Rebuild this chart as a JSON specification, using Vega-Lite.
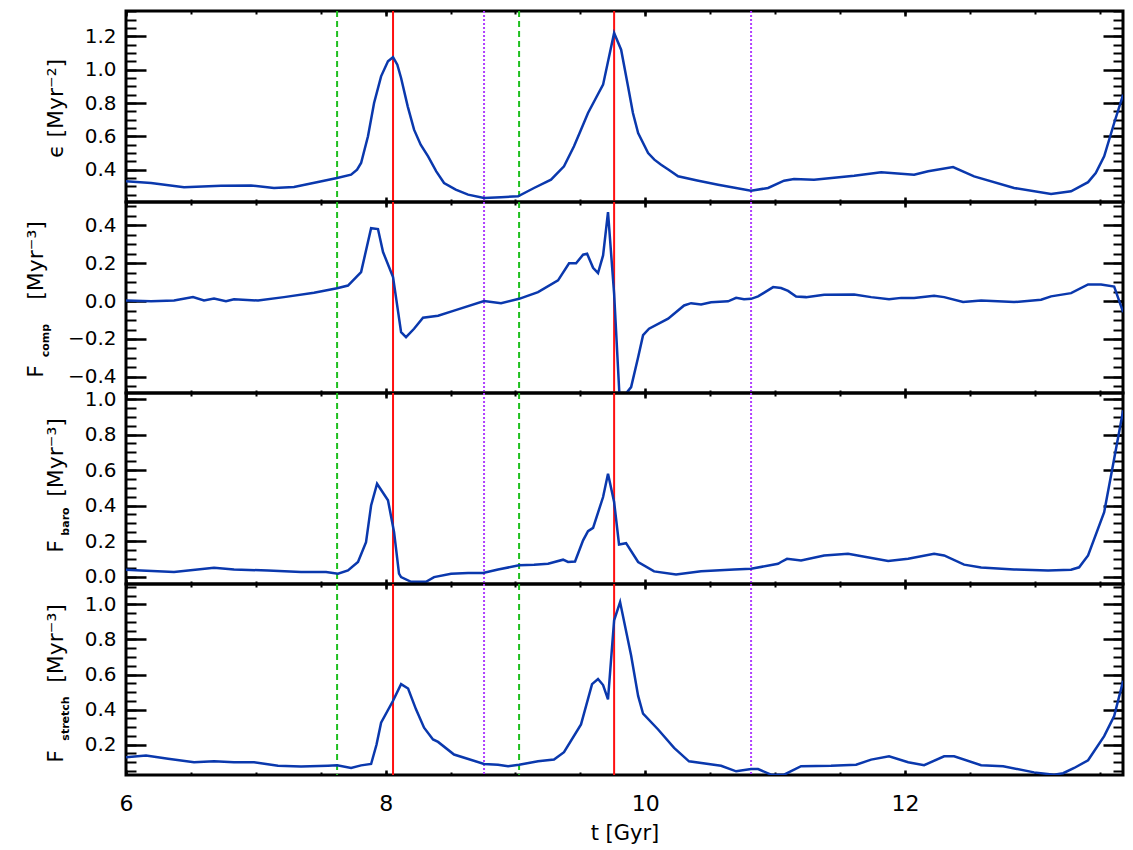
{
  "$schema": "https://vega.github.io/schema/vega-lite/v6.json",
  "padding": {"left": 22, "top": 8, "right": 5, "bottom": 5},
  "background": "white",
  "datasets": {
    "events": [
      {"t": 7.626, "kind": "a"}, {"t": 9.028, "kind": "a"},
      {"t": 8.057, "kind": "b"}, {"t": 9.760, "kind": "b"},
      {"t": 8.758, "kind": "c"}, {"t": 10.815, "kind": "c"}
    ],
    "eps": [
      {"t": 6.000, "v": 0.330}, {"t": 6.193, "v": 0.320}, {"t": 6.447, "v": 0.295}, {"t": 6.732, "v": 0.304},
      {"t": 6.963, "v": 0.305}, {"t": 7.140, "v": 0.290}, {"t": 7.294, "v": 0.296}, {"t": 7.479, "v": 0.326},
      {"t": 7.626, "v": 0.350}, {"t": 7.734, "v": 0.370}, {"t": 7.780, "v": 0.400}, {"t": 7.811, "v": 0.440},
      {"t": 7.864, "v": 0.600}, {"t": 7.911, "v": 0.800}, {"t": 7.965, "v": 0.960}, {"t": 8.018, "v": 1.050},
      {"t": 8.057, "v": 1.075}, {"t": 8.090, "v": 1.030}, {"t": 8.119, "v": 0.950}, {"t": 8.170, "v": 0.780},
      {"t": 8.219, "v": 0.640}, {"t": 8.270, "v": 0.550}, {"t": 8.327, "v": 0.480}, {"t": 8.390, "v": 0.390},
      {"t": 8.450, "v": 0.320}, {"t": 8.540, "v": 0.280}, {"t": 8.635, "v": 0.250}, {"t": 8.758, "v": 0.230},
      {"t": 8.889, "v": 0.235}, {"t": 9.020, "v": 0.240}, {"t": 9.143, "v": 0.290}, {"t": 9.274, "v": 0.340},
      {"t": 9.374, "v": 0.420}, {"t": 9.451, "v": 0.540}, {"t": 9.500, "v": 0.630}, {"t": 9.559, "v": 0.740},
      {"t": 9.620, "v": 0.830}, {"t": 9.675, "v": 0.910}, {"t": 9.760, "v": 1.220}, {"t": 9.814, "v": 1.120},
      {"t": 9.867, "v": 0.900}, {"t": 9.905, "v": 0.740}, {"t": 9.945, "v": 0.620}, {"t": 10.022, "v": 0.500},
      {"t": 10.070, "v": 0.460}, {"t": 10.122, "v": 0.430}, {"t": 10.180, "v": 0.400}, {"t": 10.253, "v": 0.360},
      {"t": 10.400, "v": 0.335}, {"t": 10.561, "v": 0.310}, {"t": 10.815, "v": 0.274}, {"t": 10.946, "v": 0.290},
      {"t": 11.069, "v": 0.334}, {"t": 11.146, "v": 0.344}, {"t": 11.300, "v": 0.340}, {"t": 11.609, "v": 0.364},
      {"t": 11.817, "v": 0.384}, {"t": 12.071, "v": 0.370}, {"t": 12.179, "v": 0.390}, {"t": 12.371, "v": 0.416},
      {"t": 12.533, "v": 0.360}, {"t": 12.841, "v": 0.290}, {"t": 13.126, "v": 0.254}, {"t": 13.280, "v": 0.270},
      {"t": 13.411, "v": 0.325}, {"t": 13.470, "v": 0.380}, {"t": 13.535, "v": 0.480}, {"t": 13.612, "v": 0.680},
      {"t": 13.681, "v": 0.850}
    ],
    "fcomp": [
      {"t": 6.000, "v": 0.003}, {"t": 6.193, "v": -0.001}, {"t": 6.370, "v": 0.003}, {"t": 6.516, "v": 0.021},
      {"t": 6.601, "v": 0.003}, {"t": 6.678, "v": 0.013}, {"t": 6.770, "v": 0.000}, {"t": 6.832, "v": 0.010},
      {"t": 7.017, "v": 0.003}, {"t": 7.217, "v": 0.021}, {"t": 7.448, "v": 0.044}, {"t": 7.626, "v": 0.068},
      {"t": 7.710, "v": 0.082}, {"t": 7.811, "v": 0.153}, {"t": 7.888, "v": 0.385}, {"t": 7.941, "v": 0.380},
      {"t": 7.980, "v": 0.259}, {"t": 8.057, "v": 0.127}, {"t": 8.119, "v": -0.164}, {"t": 8.157, "v": -0.190},
      {"t": 8.219, "v": -0.146}, {"t": 8.288, "v": -0.088}, {"t": 8.404, "v": -0.077}, {"t": 8.527, "v": -0.050},
      {"t": 8.758, "v": 0.000}, {"t": 8.889, "v": -0.011}, {"t": 9.028, "v": 0.012}, {"t": 9.174, "v": 0.047},
      {"t": 9.328, "v": 0.109}, {"t": 9.413, "v": 0.200}, {"t": 9.467, "v": 0.200}, {"t": 9.521, "v": 0.245},
      {"t": 9.552, "v": 0.250}, {"t": 9.598, "v": 0.176}, {"t": 9.636, "v": 0.148}, {"t": 9.675, "v": 0.241},
      {"t": 9.713, "v": 0.470}, {"t": 9.760, "v": 0.039}, {"t": 9.806, "v": -0.560}, {"t": 9.837, "v": -0.500},
      {"t": 9.891, "v": -0.454}, {"t": 9.945, "v": -0.296}, {"t": 9.983, "v": -0.180}, {"t": 10.029, "v": -0.146},
      {"t": 10.176, "v": -0.093}, {"t": 10.299, "v": -0.023}, {"t": 10.353, "v": -0.011}, {"t": 10.430, "v": -0.018},
      {"t": 10.507, "v": -0.006}, {"t": 10.638, "v": -0.001}, {"t": 10.700, "v": 0.017}, {"t": 10.761, "v": 0.010},
      {"t": 10.815, "v": 0.012}, {"t": 10.869, "v": 0.025}, {"t": 10.985, "v": 0.074}, {"t": 11.046, "v": 0.069},
      {"t": 11.100, "v": 0.054}, {"t": 11.162, "v": 0.024}, {"t": 11.239, "v": 0.021}, {"t": 11.378, "v": 0.033},
      {"t": 11.609, "v": 0.035}, {"t": 11.740, "v": 0.021}, {"t": 11.878, "v": 0.010}, {"t": 11.971, "v": 0.017},
      {"t": 12.071, "v": 0.017}, {"t": 12.225, "v": 0.028}, {"t": 12.302, "v": 0.021}, {"t": 12.448, "v": -0.005},
      {"t": 12.587, "v": 0.003}, {"t": 12.841, "v": -0.005}, {"t": 13.049, "v": 0.007}, {"t": 13.126, "v": 0.025},
      {"t": 13.280, "v": 0.042}, {"t": 13.411, "v": 0.088}, {"t": 13.511, "v": 0.088}, {"t": 13.612, "v": 0.077},
      {"t": 13.681, "v": -0.058}
    ],
    "fbaro": [
      {"t": 6.000, "v": 0.038}, {"t": 6.116, "v": 0.034}, {"t": 6.370, "v": 0.025}, {"t": 6.678, "v": 0.050},
      {"t": 6.832, "v": 0.040}, {"t": 7.094, "v": 0.034}, {"t": 7.348, "v": 0.025}, {"t": 7.541, "v": 0.025},
      {"t": 7.633, "v": 0.016}, {"t": 7.710, "v": 0.034}, {"t": 7.787, "v": 0.082}, {"t": 7.849, "v": 0.194},
      {"t": 7.888, "v": 0.400}, {"t": 7.934, "v": 0.523}, {"t": 8.018, "v": 0.430}, {"t": 8.065, "v": 0.250},
      {"t": 8.103, "v": 0.016}, {"t": 8.119, "v": -0.003}, {"t": 8.196, "v": -0.030}, {"t": 8.311, "v": -0.030},
      {"t": 8.373, "v": -0.003}, {"t": 8.504, "v": 0.016}, {"t": 8.635, "v": 0.020}, {"t": 8.750, "v": 0.020},
      {"t": 8.866, "v": 0.040}, {"t": 9.028, "v": 0.063}, {"t": 9.143, "v": 0.066}, {"t": 9.251, "v": 0.072},
      {"t": 9.367, "v": 0.095}, {"t": 9.405, "v": 0.082}, {"t": 9.459, "v": 0.085}, {"t": 9.521, "v": 0.204},
      {"t": 9.559, "v": 0.256}, {"t": 9.598, "v": 0.274}, {"t": 9.675, "v": 0.448}, {"t": 9.713, "v": 0.579},
      {"t": 9.760, "v": 0.420}, {"t": 9.798, "v": 0.181}, {"t": 9.852, "v": 0.188}, {"t": 9.945, "v": 0.082},
      {"t": 10.068, "v": 0.029}, {"t": 10.237, "v": 0.012}, {"t": 10.430, "v": 0.030}, {"t": 10.684, "v": 0.040},
      {"t": 10.815, "v": 0.044}, {"t": 11.023, "v": 0.072}, {"t": 11.046, "v": 0.082}, {"t": 11.092, "v": 0.100},
      {"t": 11.200, "v": 0.091}, {"t": 11.378, "v": 0.119}, {"t": 11.562, "v": 0.128}, {"t": 11.871, "v": 0.087},
      {"t": 12.025, "v": 0.100}, {"t": 12.225, "v": 0.128}, {"t": 12.302, "v": 0.119}, {"t": 12.456, "v": 0.067},
      {"t": 12.587, "v": 0.051}, {"t": 12.841, "v": 0.040}, {"t": 13.103, "v": 0.034}, {"t": 13.280, "v": 0.038},
      {"t": 13.342, "v": 0.052}, {"t": 13.411, "v": 0.119}, {"t": 13.535, "v": 0.363}, {"t": 13.612, "v": 0.664},
      {"t": 13.681, "v": 0.936}
    ],
    "fstretch": [
      {"t": 6.000, "v": 0.128}, {"t": 6.154, "v": 0.137}, {"t": 6.324, "v": 0.119}, {"t": 6.524, "v": 0.099},
      {"t": 6.678, "v": 0.105}, {"t": 6.832, "v": 0.099}, {"t": 6.986, "v": 0.099}, {"t": 7.171, "v": 0.079},
      {"t": 7.348, "v": 0.075}, {"t": 7.556, "v": 0.079}, {"t": 7.626, "v": 0.081}, {"t": 7.734, "v": 0.066},
      {"t": 7.811, "v": 0.081}, {"t": 7.888, "v": 0.089}, {"t": 7.930, "v": 0.200}, {"t": 7.965, "v": 0.325},
      {"t": 8.057, "v": 0.450}, {"t": 8.119, "v": 0.545}, {"t": 8.173, "v": 0.520}, {"t": 8.234, "v": 0.401},
      {"t": 8.296, "v": 0.296}, {"t": 8.365, "v": 0.229}, {"t": 8.404, "v": 0.215}, {"t": 8.527, "v": 0.143},
      {"t": 8.758, "v": 0.089}, {"t": 8.866, "v": 0.085}, {"t": 8.943, "v": 0.076}, {"t": 9.028, "v": 0.085},
      {"t": 9.174, "v": 0.104}, {"t": 9.297, "v": 0.114}, {"t": 9.374, "v": 0.156}, {"t": 9.505, "v": 0.315},
      {"t": 9.590, "v": 0.545}, {"t": 9.636, "v": 0.574}, {"t": 9.675, "v": 0.540}, {"t": 9.713, "v": 0.458},
      {"t": 9.760, "v": 0.910}, {"t": 9.806, "v": 1.014}, {"t": 9.891, "v": 0.708}, {"t": 9.945, "v": 0.478},
      {"t": 9.983, "v": 0.376}, {"t": 10.099, "v": 0.286}, {"t": 10.222, "v": 0.181}, {"t": 10.337, "v": 0.104},
      {"t": 10.584, "v": 0.079}, {"t": 10.700, "v": 0.047}, {"t": 10.815, "v": 0.060}, {"t": 10.869, "v": 0.060},
      {"t": 10.969, "v": 0.028}, {"t": 11.069, "v": 0.028}, {"t": 11.200, "v": 0.076}, {"t": 11.431, "v": 0.079},
      {"t": 11.624, "v": 0.085}, {"t": 11.740, "v": 0.114}, {"t": 11.878, "v": 0.133}, {"t": 12.025, "v": 0.099},
      {"t": 12.148, "v": 0.082}, {"t": 12.302, "v": 0.133}, {"t": 12.379, "v": 0.133}, {"t": 12.587, "v": 0.082},
      {"t": 12.757, "v": 0.076}, {"t": 12.995, "v": 0.041}, {"t": 13.149, "v": 0.028}, {"t": 13.219, "v": 0.036},
      {"t": 13.304, "v": 0.066}, {"t": 13.411, "v": 0.110}, {"t": 13.535, "v": 0.248}, {"t": 13.612, "v": 0.363},
      {"t": 13.681, "v": 0.564}
    ]
  },
  "vconcat": [
    {
      "width": 997, "height": 191,
      "layer": [
        {"data": {"name": "events"}, "mark": {"type": "rule", "strokeWidth": 2},
         "encoding": {"x": {"field": "t", "type": "quantitative", "scale": {"domain": [6, 13.68], "nice": false, "zero": false}, "axis": null},
           "color": {"field": "kind", "type": "nominal", "scale": {"domain": ["a", "b", "c"], "range": ["#1fbf1f", "#ff1010", "#b040ff"]}, "legend": null},
           "strokeDash": {"field": "kind", "type": "nominal", "scale": {"domain": ["a", "b", "c"], "range": [[6, 4], [1, 0], [2, 2]]}, "legend": null}}},
        {"data": {"name": "eps"}, "mark": {"type": "line", "color": "#0a38ad", "strokeWidth": 2.5, "clip": true},
         "encoding": {
           "x": {"field": "t", "type": "quantitative", "scale": {"domain": [6, 13.68], "nice": false, "zero": false},
             "axis": {"orient": "bottom", "values": [6, 8, 10, 12], "tickSize": -5, "tickWidth": 2.5, "labels": false, "title": null}},
           "y": {"field": "v", "type": "quantitative", "scale": {"domain": [0.206, 1.352], "nice": false, "zero": false},
             "axis": {"orient": "left", "values": [0.4, 0.6, 0.8, 1.0, 1.2], "tickSize": -20, "tickWidth": 2.5, "labelPadding": 30, "labelFontSize": 20, "format": ".1f",
               "title": "ϵ [Myr⁻²]", "titleFontSize": 22, "titleAngle": 270, "titleBaseline": "alphabetic", "titleAlign": "center", "titleX": -64, "titleY": 97}}}},
        {"data": {"name": "eps"}, "mark": {"type": "line", "strokeOpacity": 0},
         "encoding": {
           "x": {"field": "t", "type": "quantitative", "scale": {"domain": [6, 13.68], "nice": false, "zero": false},
             "axis": {"orient": "bottom", "values": [6, 6.5, 7, 7.5, 8, 8.5, 9, 9.5, 10, 10.5, 11, 11.5, 12, 12.5, 13, 13.5], "tickSize": -3, "tickWidth": 2, "labels": false, "title": null}},
           "y": {"field": "v", "type": "quantitative", "scale": {"domain": [0.206, 1.352], "nice": false, "zero": false},
             "axis": {"orient": "left", "values": [0.25, 0.3, 0.35, 0.4, 0.45, 0.5, 0.55, 0.6, 0.65, 0.7, 0.75, 0.8, 0.85, 0.9, 0.95, 1.0, 1.05, 1.1, 1.15, 1.2, 1.25, 1.3, 1.35], "tickSize": -10, "tickWidth": 2, "labels": false, "title": null}}}},
        {"data": {"name": "eps"}, "mark": {"type": "line", "strokeOpacity": 0},
         "encoding": {
           "x": {"field": "t", "type": "quantitative", "scale": {"domain": [6, 13.68], "nice": false, "zero": false},
             "axis": {"orient": "top", "values": [6, 8, 10, 12], "tickSize": -5, "tickWidth": 2.5, "labels": false, "title": null}},
           "y": {"field": "v", "type": "quantitative", "scale": {"domain": [0.206, 1.352], "nice": false, "zero": false},
             "axis": {"orient": "right", "values": [0.4, 0.6, 0.8, 1.0, 1.2], "tickSize": -20, "tickWidth": 2.5, "labels": false, "title": null}}}},
        {"data": {"name": "eps"}, "mark": {"type": "line", "strokeOpacity": 0},
         "encoding": {
           "x": {"field": "t", "type": "quantitative", "scale": {"domain": [6, 13.68], "nice": false, "zero": false},
             "axis": {"orient": "top", "values": [6, 6.5, 7, 7.5, 8, 8.5, 9, 9.5, 10, 10.5, 11, 11.5, 12, 12.5, 13, 13.5], "tickSize": -3, "tickWidth": 2, "labels": false, "title": null}},
           "y": {"field": "v", "type": "quantitative", "scale": {"domain": [0.206, 1.352], "nice": false, "zero": false},
             "axis": {"orient": "right", "values": [0.25, 0.3, 0.35, 0.4, 0.45, 0.5, 0.55, 0.6, 0.65, 0.7, 0.75, 0.8, 0.85, 0.9, 0.95, 1.0, 1.05, 1.1, 1.15, 1.2, 1.25, 1.3, 1.35], "tickSize": -10, "tickWidth": 2, "labels": false, "title": null}}}}
      ],
      "resolve": {"axis": {"x": "independent", "y": "independent"}}
    },
    {
      "width": 997, "height": 191,
      "layer": [
        {"data": {"name": "events"}, "mark": {"type": "rule", "strokeWidth": 2},
         "encoding": {"x": {"field": "t", "type": "quantitative", "scale": {"domain": [6, 13.68], "nice": false, "zero": false}, "axis": null},
           "color": {"field": "kind", "type": "nominal", "scale": {"domain": ["a", "b", "c"], "range": ["#1fbf1f", "#ff1010", "#b040ff"]}, "legend": null},
           "strokeDash": {"field": "kind", "type": "nominal", "scale": {"domain": ["a", "b", "c"], "range": [[6, 4], [1, 0], [2, 2]]}, "legend": null}}},
        {"data": {"name": "fcomp"}, "mark": {"type": "line", "color": "#0a38ad", "strokeWidth": 2.5, "clip": true},
         "encoding": {
           "x": {"field": "t", "type": "quantitative", "scale": {"domain": [6, 13.68], "nice": false, "zero": false},
             "axis": {"orient": "bottom", "values": [6, 8, 10, 12], "tickSize": -5, "tickWidth": 2.5, "labels": false, "title": null}},
           "y": {"field": "v", "type": "quantitative", "scale": {"domain": [-0.485, 0.523], "nice": false, "zero": false},
             "axis": {"orient": "left", "values": [-0.4, -0.2, 0, 0.2, 0.4], "tickSize": -20, "tickWidth": 2.5, "labelPadding": 30, "labelFontSize": 20, "format": ".1f",
               "title": "[Myr⁻³]", "titleFontSize": 22, "titleAngle": 270, "titleBaseline": "alphabetic", "titleAlign": "center", "titleX": -84, "titleY": 58}}}},
        {"data": {"name": "fcomp"}, "mark": {"type": "line", "strokeOpacity": 0},
         "encoding": {
           "x": {"field": "t", "type": "quantitative", "scale": {"domain": [6, 13.68], "nice": false, "zero": false},
             "axis": {"orient": "bottom", "values": [6, 6.5, 7, 7.5, 8, 8.5, 9, 9.5, 10, 10.5, 11, 11.5, 12, 12.5, 13, 13.5], "tickSize": -3, "tickWidth": 2, "labels": false, "title": null}},
           "y": {"field": "v", "type": "quantitative", "scale": {"domain": [-0.485, 0.523], "nice": false, "zero": false},
             "axis": {"orient": "left", "values": [-0.45, -0.4, -0.35, -0.3, -0.25, -0.2, -0.15, -0.1, -0.05, 0, 0.05, 0.1, 0.15, 0.2, 0.25, 0.3, 0.35, 0.4, 0.45, 0.5], "tickSize": -10, "tickWidth": 2, "labels": false,
               "title": "F", "titleFontSize": 22, "titleAngle": 270, "titleBaseline": "alphabetic", "titleAlign": "center", "titleX": -84, "titleY": 169}}}},
        {"data": {"name": "fcomp"}, "mark": {"type": "line", "strokeOpacity": 0},
         "encoding": {
           "x": {"field": "t", "type": "quantitative", "scale": {"domain": [6, 13.68], "nice": false, "zero": false},
             "axis": {"orient": "top", "values": [6, 8, 10, 12], "tickSize": -5, "tickWidth": 2.5, "labels": false, "title": null}},
           "y": {"field": "v", "type": "quantitative", "scale": {"domain": [-0.485, 0.523], "nice": false, "zero": false},
             "axis": {"orient": "right", "values": [-0.4, -0.2, 0, 0.2, 0.4], "tickSize": -20, "tickWidth": 2.5, "labels": false,
               "title": "comp", "titleFontSize": 11, "titleFontWeight": "bold", "titleAngle": 270, "titleBaseline": "alphabetic", "titleAlign": "center", "titleX": -1075, "titleY": 138}}}},
        {"data": {"name": "fcomp"}, "mark": {"type": "line", "strokeOpacity": 0},
         "encoding": {
           "x": {"field": "t", "type": "quantitative", "scale": {"domain": [6, 13.68], "nice": false, "zero": false},
             "axis": {"orient": "top", "values": [6, 6.5, 7, 7.5, 8, 8.5, 9, 9.5, 10, 10.5, 11, 11.5, 12, 12.5, 13, 13.5], "tickSize": -3, "tickWidth": 2, "labels": false, "title": null}},
           "y": {"field": "v", "type": "quantitative", "scale": {"domain": [-0.485, 0.523], "nice": false, "zero": false},
             "axis": {"orient": "right", "values": [-0.45, -0.4, -0.35, -0.3, -0.25, -0.2, -0.15, -0.1, -0.05, 0, 0.05, 0.1, 0.15, 0.2, 0.25, 0.3, 0.35, 0.4, 0.45, 0.5], "tickSize": -10, "tickWidth": 2, "labels": false, "title": null}}}}
      ],
      "resolve": {"axis": {"x": "independent", "y": "independent"}}
    },
    {
      "width": 997, "height": 191,
      "layer": [
        {"data": {"name": "events"}, "mark": {"type": "rule", "strokeWidth": 2},
         "encoding": {"x": {"field": "t", "type": "quantitative", "scale": {"domain": [6, 13.68], "nice": false, "zero": false}, "axis": null},
           "color": {"field": "kind", "type": "nominal", "scale": {"domain": ["a", "b", "c"], "range": ["#1fbf1f", "#ff1010", "#b040ff"]}, "legend": null},
           "strokeDash": {"field": "kind", "type": "nominal", "scale": {"domain": ["a", "b", "c"], "range": [[6, 4], [1, 0], [2, 2]]}, "legend": null}}},
        {"data": {"name": "fbaro"}, "mark": {"type": "line", "color": "#0a38ad", "strokeWidth": 2.5, "clip": true},
         "encoding": {
           "x": {"field": "t", "type": "quantitative", "scale": {"domain": [6, 13.68], "nice": false, "zero": false},
             "axis": {"orient": "bottom", "values": [6, 8, 10, 12], "tickSize": -5, "tickWidth": 2.5, "labels": false, "title": null}},
           "y": {"field": "v", "type": "quantitative", "scale": {"domain": [-0.042, 1.034], "nice": false, "zero": false},
             "axis": {"orient": "left", "values": [0, 0.2, 0.4, 0.6, 0.8, 1.0], "tickSize": -20, "tickWidth": 2.5, "labelPadding": 30, "labelFontSize": 20, "format": ".1f",
               "title": "[Myr⁻³]", "titleFontSize": 22, "titleAngle": 270, "titleBaseline": "alphabetic", "titleAlign": "center", "titleX": -64, "titleY": 64}}}},
        {"data": {"name": "fbaro"}, "mark": {"type": "line", "strokeOpacity": 0},
         "encoding": {
           "x": {"field": "t", "type": "quantitative", "scale": {"domain": [6, 13.68], "nice": false, "zero": false},
             "axis": {"orient": "bottom", "values": [6, 6.5, 7, 7.5, 8, 8.5, 9, 9.5, 10, 10.5, 11, 11.5, 12, 12.5, 13, 13.5], "tickSize": -3, "tickWidth": 2, "labels": false, "title": null}},
           "y": {"field": "v", "type": "quantitative", "scale": {"domain": [-0.042, 1.034], "nice": false, "zero": false},
             "axis": {"orient": "left", "values": [0, 0.05, 0.1, 0.15, 0.2, 0.25, 0.3, 0.35, 0.4, 0.45, 0.5, 0.55, 0.6, 0.65, 0.7, 0.75, 0.8, 0.85, 0.9, 0.95, 1.0], "tickSize": -10, "tickWidth": 2, "labels": false,
               "title": "F", "titleFontSize": 22, "titleAngle": 270, "titleBaseline": "alphabetic", "titleAlign": "center", "titleX": -64, "titleY": 153}}}},
        {"data": {"name": "fbaro"}, "mark": {"type": "line", "strokeOpacity": 0},
         "encoding": {
           "x": {"field": "t", "type": "quantitative", "scale": {"domain": [6, 13.68], "nice": false, "zero": false},
             "axis": {"orient": "top", "values": [6, 8, 10, 12], "tickSize": -5, "tickWidth": 2.5, "labels": false, "title": null}},
           "y": {"field": "v", "type": "quantitative", "scale": {"domain": [-0.042, 1.034], "nice": false, "zero": false},
             "axis": {"orient": "right", "values": [0, 0.2, 0.4, 0.6, 0.8, 1.0], "tickSize": -20, "tickWidth": 2.5, "labels": false,
               "title": "baro", "titleFontSize": 11, "titleFontWeight": "bold", "titleAngle": 270, "titleBaseline": "alphabetic", "titleAlign": "center", "titleX": -1055, "titleY": 128}}}},
        {"data": {"name": "fbaro"}, "mark": {"type": "line", "strokeOpacity": 0},
         "encoding": {
           "x": {"field": "t", "type": "quantitative", "scale": {"domain": [6, 13.68], "nice": false, "zero": false},
             "axis": {"orient": "top", "values": [6, 6.5, 7, 7.5, 8, 8.5, 9, 9.5, 10, 10.5, 11, 11.5, 12, 12.5, 13, 13.5], "tickSize": -3, "tickWidth": 2, "labels": false, "title": null}},
           "y": {"field": "v", "type": "quantitative", "scale": {"domain": [-0.042, 1.034], "nice": false, "zero": false},
             "axis": {"orient": "right", "values": [0, 0.05, 0.1, 0.15, 0.2, 0.25, 0.3, 0.35, 0.4, 0.45, 0.5, 0.55, 0.6, 0.65, 0.7, 0.75, 0.8, 0.85, 0.9, 0.95, 1.0], "tickSize": -10, "tickWidth": 2, "labels": false, "title": null}}}}
      ],
      "resolve": {"axis": {"x": "independent", "y": "independent"}}
    },
    {
      "width": 997, "height": 191,
      "layer": [
        {"data": {"name": "events"}, "mark": {"type": "rule", "strokeWidth": 2},
         "encoding": {"x": {"field": "t", "type": "quantitative", "scale": {"domain": [6, 13.68], "nice": false, "zero": false}, "axis": null},
           "color": {"field": "kind", "type": "nominal", "scale": {"domain": ["a", "b", "c"], "range": ["#1fbf1f", "#ff1010", "#b040ff"]}, "legend": null},
           "strokeDash": {"field": "kind", "type": "nominal", "scale": {"domain": ["a", "b", "c"], "range": [[6, 4], [1, 0], [2, 2]]}, "legend": null}}},
        {"data": {"name": "fstretch"}, "mark": {"type": "line", "color": "#0a38ad", "strokeWidth": 2.5, "clip": true},
         "encoding": {
           "x": {"field": "t", "type": "quantitative", "scale": {"domain": [6, 13.68], "nice": false, "zero": false},
             "axis": {"orient": "bottom", "values": [6, 8, 10, 12], "tickSize": -5, "tickWidth": 2.5, "labels": true, "labelFontSize": 22, "labelPadding": 23, "labelFlush": false, "format": "d",
               "title": "t [Gyr]", "titleFontSize": 21, "titleBaseline": "alphabetic", "titleY": 64}},
           "y": {"field": "v", "type": "quantitative", "scale": {"domain": [0.026, 1.117], "nice": false, "zero": false},
             "axis": {"orient": "left", "values": [0.2, 0.4, 0.6, 0.8, 1.0], "tickSize": -20, "tickWidth": 2.5, "labelPadding": 30, "labelFontSize": 20, "format": ".1f",
               "title": "[Myr⁻³]", "titleFontSize": 22, "titleAngle": 270, "titleBaseline": "alphabetic", "titleAlign": "center", "titleX": -64, "titleY": 59}}}},
        {"data": {"name": "fstretch"}, "mark": {"type": "line", "strokeOpacity": 0},
         "encoding": {
           "x": {"field": "t", "type": "quantitative", "scale": {"domain": [6, 13.68], "nice": false, "zero": false},
             "axis": {"orient": "bottom", "values": [6, 6.5, 7, 7.5, 8, 8.5, 9, 9.5, 10, 10.5, 11, 11.5, 12, 12.5, 13, 13.5], "tickSize": -3, "tickWidth": 2, "labels": false, "title": null}},
           "y": {"field": "v", "type": "quantitative", "scale": {"domain": [0.026, 1.117], "nice": false, "zero": false},
             "axis": {"orient": "left", "values": [0.05, 0.1, 0.15, 0.2, 0.25, 0.3, 0.35, 0.4, 0.45, 0.5, 0.55, 0.6, 0.65, 0.7, 0.75, 0.8, 0.85, 0.9, 0.95, 1.0, 1.05, 1.1], "tickSize": -10, "tickWidth": 2, "labels": false,
               "title": "F", "titleFontSize": 22, "titleAngle": 270, "titleBaseline": "alphabetic", "titleAlign": "center", "titleX": -64, "titleY": 172}}}},
        {"data": {"name": "fstretch"}, "mark": {"type": "line", "strokeOpacity": 0},
         "encoding": {
           "x": {"field": "t", "type": "quantitative", "scale": {"domain": [6, 13.68], "nice": false, "zero": false},
             "axis": {"orient": "top", "values": [6, 8, 10, 12], "tickSize": -5, "tickWidth": 2.5, "labels": false, "title": null}},
           "y": {"field": "v", "type": "quantitative", "scale": {"domain": [0.026, 1.117], "nice": false, "zero": false},
             "axis": {"orient": "right", "values": [0.2, 0.4, 0.6, 0.8, 1.0], "tickSize": -20, "tickWidth": 2.5, "labels": false,
               "title": "stretch", "titleFontSize": 11, "titleFontWeight": "bold", "titleAngle": 270, "titleBaseline": "alphabetic", "titleAlign": "center", "titleX": -1055, "titleY": 134}}}},
        {"data": {"name": "fstretch"}, "mark": {"type": "line", "strokeOpacity": 0},
         "encoding": {
           "x": {"field": "t", "type": "quantitative", "scale": {"domain": [6, 13.68], "nice": false, "zero": false},
             "axis": {"orient": "top", "values": [6, 6.5, 7, 7.5, 8, 8.5, 9, 9.5, 10, 10.5, 11, 11.5, 12, 12.5, 13, 13.5], "tickSize": -3, "tickWidth": 2, "labels": false, "title": null}},
           "y": {"field": "v", "type": "quantitative", "scale": {"domain": [0.026, 1.117], "nice": false, "zero": false},
             "axis": {"orient": "right", "values": [0.05, 0.1, 0.15, 0.2, 0.25, 0.3, 0.35, 0.4, 0.45, 0.5, 0.55, 0.6, 0.65, 0.7, 0.75, 0.8, 0.85, 0.9, 0.95, 1.0, 1.05, 1.1], "tickSize": -10, "tickWidth": 2, "labels": false, "title": null}}}}
      ],
      "resolve": {"axis": {"x": "independent", "y": "independent"}}
    }
  ],
  "spacing": 0,
  "bounds": "flush",
  "config": {
    "view": {"stroke": "black", "strokeWidth": 3},
    "axis": {"domain": false, "grid": false, "tickColor": "black", "labelColor": "black", "titleColor": "black",
      "labelFont": "DejaVu Sans", "titleFont": "DejaVu Sans", "titleFontWeight": "normal"}
  }
}
